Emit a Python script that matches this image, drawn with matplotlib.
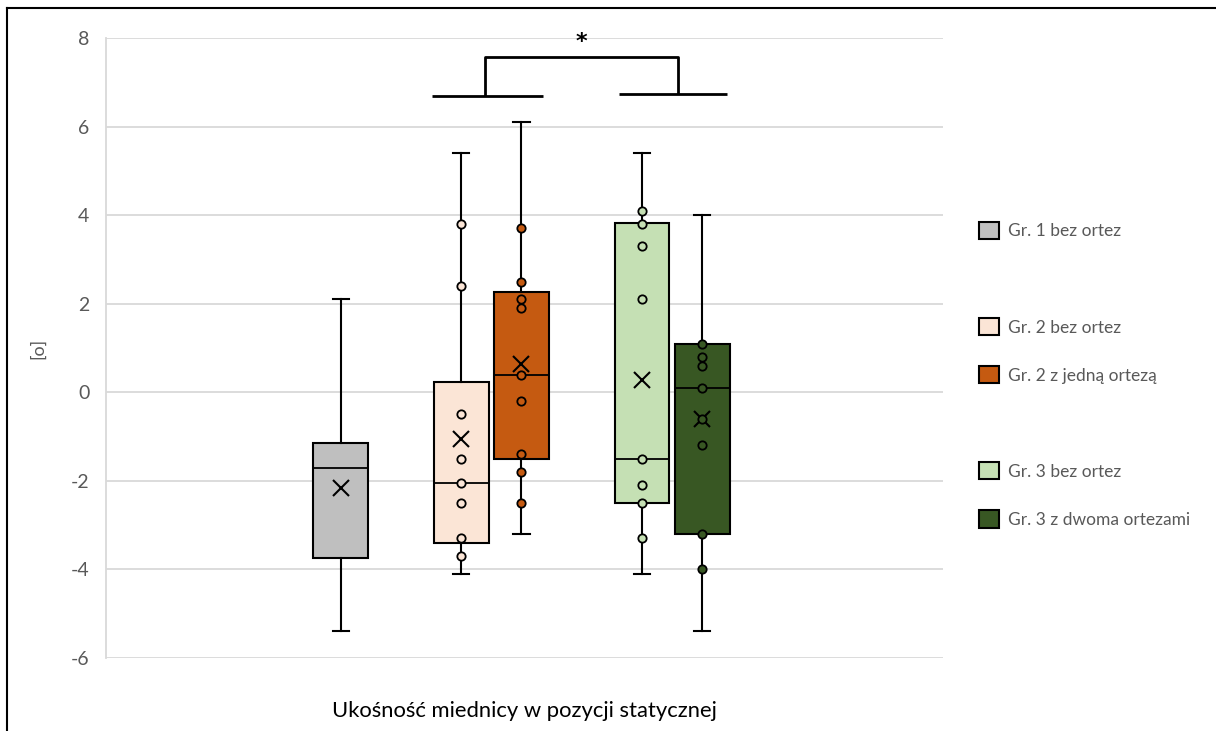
import matplotlib
matplotlib.use("Agg")
import matplotlib.pyplot as plt
from matplotlib.patches import Patch
from matplotlib.lines import Line2D

plt.rcParams['font.family'] = ['Lato', 'DejaVu Sans']

# ---- data ----
labels = ["Gr. 1 bez ortez", "Gr. 2 bez ortez", "Gr. 2 z jedną ortezą",
          "Gr. 3 bez ortez", "Gr. 3 z dwoma ortezami"]
slots = [0, 2, 3, 5, 6]          # series slot (1 and 4 are empty series)
colors = ["#BFBFBF", "#FBE5D6", "#C55A11", "#C5E0B4", "#385723"]
whislo = [-5.4, -4.1, -3.2, -4.1, -5.4]
q1     = [-3.75, -3.4, -1.5, -2.5, -3.2]
med    = [-1.7, -2.05, 0.4, -1.5, 0.1]
q3     = [-1.15, 0.23, 2.27, 3.82, 1.1]
whishi = [2.1, 5.4, 6.1, 5.4, 4.0]
means  = [-2.17, -1.05, 0.63, 0.28, -0.6]
points = [
    [],
    [3.8, 2.4, -0.5, -1.5, -2.05, -2.5, -3.3, -3.7],
    [3.7, 2.5, 2.1, 1.9, 0.4, -0.2, -1.4, -1.8, -2.5],
    [4.1, 3.8, 3.3, 2.1, -1.5, -2.1, -2.5, -3.3],
    [1.1, 0.8, 0.6, 0.1, -0.6, -1.2, -3.2, -4.0],
]
yticks = [-6, -4, -2, 0, 2, 4, 6, 8]
xlabel = "Ukośność miednicy w pozycji statycznej"
ylabel = "[o]"

fig = plt.figure(figsize=(12.16, 7.31), dpi=100)
ax = fig.add_axes([106/1216, 1-658/731, (943-106)/1216, (658-38)/731])

stats = []
for i in range(len(labels)):
    stats.append(dict(whislo=whislo[i], q1=q1[i], med=med[i], q3=q3[i],
                      whishi=whishi[i], mean=means[i], fliers=[]))

bp = ax.bxp(stats, positions=slots, widths=0.91, patch_artist=True,
            showmeans=True, meanline=False, showfliers=False,
            boxprops=dict(linewidth=1.5, edgecolor='black'),
            medianprops=dict(color='black', linewidth=1.3),
            whiskerprops=dict(color='black', linewidth=1.5),
            capprops=dict(color='black', linewidth=1.5),
            meanprops=dict(marker='x', markeredgecolor='black', markersize=12,
                           markeredgewidth=1.5, linestyle='none'),
            capwidths=0.27, zorder=3)
for patch, c in zip(bp['boxes'], colors):
    patch.set_facecolor(c)

for s, pts, c in zip(slots, points, colors):
    if pts:
        ax.plot([s]*len(pts), pts, linestyle='none', marker='o', markersize=6,
                markerfacecolor=c, markeredgecolor='black', markeredgewidth=1.3,
                zorder=4)

ax.set_ylim(-6, 8)
ax.set_xlim(-3.9, 10.0)
ax.set_yticks(yticks)
ax.set_yticklabels([str(t) for t in yticks], fontsize=14, color='#595959')
ax.set_xticks([])
ax.yaxis.grid(True, color='#D9D9D9', linewidth=1.3)
ax.set_axisbelow(True)
for sp in ['top', 'right', 'bottom']:
    ax.spines[sp].set_visible(False)
ax.spines['left'].set_color('#D9D9D9')
ax.spines['left'].set_linewidth(1.3)
ax.tick_params(axis='y', length=0, pad=12)

ax.set_xlabel(xlabel, fontsize=15.8, color='black', labelpad=31)
ax.set_ylabel(ylabel, fontsize=13, color='#595959', labelpad=18)

# significance bracket
bkw = dict(color='black', linewidth=2, solid_capstyle='butt', clip_on=False)
lx0, lx1 = slots[1] - 0.48, slots[2] + 0.35
rx0, rx1 = slots[3] - 0.38, slots[4] + 0.42
lmid, rmid = slots[1] + 0.4, slots[4] - 0.4
ax.plot([lx0, lx1], [6.69, 6.69], **bkw)
ax.plot([rx0, rx1], [6.73, 6.73], **bkw)
ax.plot([lmid, lmid, rmid, rmid], [6.69, 7.56, 7.56, 6.73], **bkw)
ax.text((slots[2] + slots[3]) / 2, 7.9, "*", ha='center', va='center',
        fontsize=16, fontweight='bold', color='black', family='DejaVu Sans',
        clip_on=False)

# legend
handles = []
leg_labels = []
order = [0, None, 1, 2, None, 3, 4]
for o in order:
    if o is None:
        handles.append(Patch(facecolor='none', edgecolor='none'))
        leg_labels.append(" ")
    else:
        handles.append(Patch(facecolor=colors[o], edgecolor='black', linewidth=1.5))
        leg_labels.append(labels[o])
leg = fig.legend(handles, leg_labels, loc='upper left',
                 bbox_to_anchor=(979/1216, 1-222/731), frameon=False,
                 fontsize=12.5, labelcolor='#595959', handlelength=1.15,
                 handleheight=1.15, labelspacing=1.76, handletextpad=0.5,
                 borderpad=0, borderaxespad=0)

# figure border (top and left)
fig.add_artist(Line2D([7/1216, 1.0], [1-8/731, 1-8/731], color='black',
                      linewidth=1.5, transform=fig.transFigure))
fig.add_artist(Line2D([7/1216, 7/1216], [0, 1-8/731], color='black',
                      linewidth=1.5, transform=fig.transFigure))

fig.savefig("out.png", dpi=100)
